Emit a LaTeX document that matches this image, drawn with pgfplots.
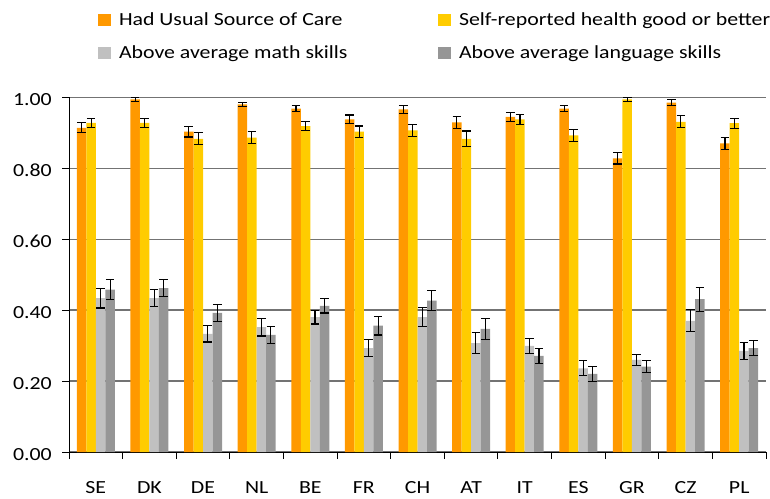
\documentclass[border=0pt]{standalone}
\usepackage{pgfplots}
\pgfplotsset{compat=1.18}
\usepackage{pgfplotstable}
\usepackage{fontspec}
\setmainfont{Carlito}[FakeStretch=1.18]
\definecolor{care}{HTML}{FF9900}
\definecolor{health}{HTML}{FFCC00}
\definecolor{mathc}{HTML}{C0C0C0}
\definecolor{langc}{HTML}{969696}

\pgfplotstableread{
x  c     ce    h     he    m     me    l     le
0  0.914 0.014 0.928 0.013 0.434 0.028 0.458 0.028
1  0.994 0.005 0.928 0.012 0.434 0.024 0.462 0.024
2  0.903 0.015 0.883 0.017 0.333 0.023 0.392 0.025
3  0.980 0.006 0.886 0.017 0.352 0.025 0.330 0.024
4  0.968 0.008 0.919 0.012 0.380 0.019 0.412 0.020
5  0.938 0.012 0.903 0.016 0.293 0.025 0.356 0.026
6  0.966 0.011 0.907 0.017 0.380 0.027 0.427 0.029
7  0.929 0.017 0.883 0.022 0.307 0.030 0.347 0.030
8  0.945 0.012 0.938 0.014 0.299 0.021 0.271 0.022
9  0.968 0.008 0.893 0.017 0.236 0.021 0.220 0.021
10 0.828 0.016 0.994 0.005 0.260 0.016 0.241 0.018
11 0.985 0.008 0.931 0.017 0.370 0.031 0.431 0.034
12 0.870 0.016 0.927 0.014 0.285 0.024 0.293 0.021
}\data

\newcommand{\fs}{\fontsize{18.5}{22}\selectfont}

\begin{document}
\fs
\begin{tikzpicture}
\useasboundingbox (0,0) rectangle (770pt,498pt);
\begin{axis}[
  at={(69pt,46pt)}, anchor=south west,
  scale only axis, width=697pt, height=354.7pt,
  xmin=-0.5, xmax=12.5, ymin=0, ymax=1,
  enlargelimits=false,
  ybar=0pt, bar width=9.5pt,
  axis x line*=bottom, axis y line*=left,
  axis line style={black, line width=1pt},
  tick align=outside, major tick length=7pt,
  tick style={black, line width=1pt},
  xtick={-0.5,0.5,...,12.5}, xticklabels={},
  extra x ticks={0,1,...,12},
  extra x tick labels={SE,DK,DE,NL,BE,FR,CH,AT,IT,ES,GR,CZ,PL},
  extra x tick style={major tick length=0pt, grid=none},
  xticklabel style={font=\fs, anchor=base, inner sep=0pt, yshift=-41pt},
  ytick={0,0.2,...,1.0},
  ymajorgrids,
  major grid style={draw=black!55, line width=1.3pt},
  yticklabel={\pgfmathprintnumber[fixed,fixed zerofill,precision=2,assume math mode=true]{\tick}},
  yticklabel style={font=\fs, anchor=base east, inner sep=0pt, xshift=-10pt, yshift=-8.7pt},
  legend columns=2,
  legend cell align=left,
  legend style={at={(0.04161,1.2349)}, anchor=north west, draw=none, fill=none,
    inner sep=0pt, outer sep=0pt, column sep=0pt, row sep=21.2pt,
    nodes={inner sep=0pt, text height=11.8pt, text depth=0pt, font=\fs}},
  every axis plot post/.append style={draw=none},
  legend image code/.code={\fill[#1,draw=none] (0pt,-5.85pt) rectangle (13.3pt,5.85pt); \path (21pt,0pt);},
  error bars/error bar style={black, line width=1.1pt},
  error bars/error mark options={black, line width=1.1pt, mark size=4.3pt, rotate=90},
]
\addplot[fill=care, draw=none, error bars/.cd, y dir=both, y explicit] table[x=x, y=c, y error=ce]{\data};
\addplot[fill=health, draw=none, error bars/.cd, y dir=both, y explicit] table[x=x, y=h, y error=he]{\data};
\addplot[fill=mathc, draw=none, error bars/.cd, y dir=both, y explicit] table[x=x, y=m, y error=me]{\data};
\addplot[fill=langc, draw=none, error bars/.cd, y dir=both, y explicit] table[x=x, y=l, y error=le]{\data};
\legend{\makebox[319pt][l]{Had Usual Source of Care}, Self-reported health good or better, Above average math skills, Above average language skills}
\end{axis}
\end{tikzpicture}
\end{document}
